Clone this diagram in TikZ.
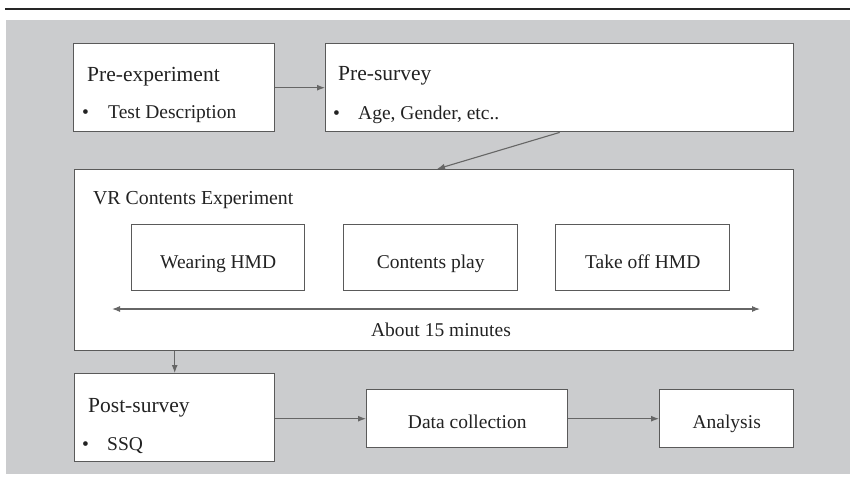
\documentclass[tikz,border=0pt]{standalone}
\usepackage{fontspec}
\setmainfont{Liberation Serif}
\usetikzlibrary{arrows.meta}
\definecolor{bggray}{HTML}{CBCCCE}
\definecolor{edgegray}{HTML}{5A5A5A}
\definecolor{txt}{HTML}{222222}
\definecolor{linegray}{HTML}{666666}
\tikzset{
  box/.style={draw=edgegray, line width=1.4pt, fill=white, anchor=north west, inner sep=0pt},
  head/.style={anchor=base west, inner sep=0pt, text=txt, font=\fontsize{21.5}{24}\selectfont},
  item/.style={anchor=base west, inner sep=0pt, text=txt, font=\fontsize{19.5}{22}\selectfont},
  ctext/.style={anchor=base, inner sep=0pt, text=txt, font=\fontsize{19.5}{22}\selectfont},
  tip/.tip={Latex[length=8pt,width=6pt]},
  conn/.style={draw=linegray, line width=1.1pt, -tip},
}
\begin{document}
\begin{tikzpicture}[x=1pt,y=-1pt]
\useasboundingbox (0,0) rectangle (850,480);
\fill[bggray] (6,20) rectangle (850,474);
\draw[line width=2pt, color=black!85] (5,9) -- (850,9);

% top row
\node[box, minimum width=201pt, minimum height=88pt] (pre) at (73,43) {};
\node[box, minimum width=468pt, minimum height=88pt] (pres) at (325,43) {};
\node[head] (preT) at (87,81) {Pre-experiment};
\node[item] (preB) at (82,118) {•};
\node[item] (preI) at (108,118) {Test Description};
\node[head] (presT) at (338,80) {Pre-survey};
\node[item] (presB) at (333,119) {•};
\node[item] (presI) at (358,119) {Age, Gender, etc..};

% VR block
\node[box, minimum width=719pt, minimum height=181pt] (vr) at (74,169) {};
\node[item, font=\fontsize{19.8}{22}\selectfont] (vrT) at (93,204) {VR Contents Experiment};
\node[box, minimum width=173pt, minimum height=66pt] (wear) at (131,224) {};
\node[ctext] (wearT) at ([yshift=-11pt]wear.center) {Wearing HMD};
\node[box, minimum width=174pt, minimum height=66pt] (play) at (343,224) {};
\node[ctext] (playT) at ([yshift=-11pt]play.center) {Contents play};
\node[box, minimum width=174pt, minimum height=66pt] (off) at (555,224) {};
\node[ctext] (offT) at ([yshift=-11pt]off.center) {Take off HMD};
\coordinate (tl) at (112,309);
\coordinate (tr) at (760,309);
\draw[draw=linegray, line width=1.1pt, tip-tip] (tl) -- (tr);
\node[ctext] (about) at (441,336) {About 15 minutes};

% bottom row
\node[box, minimum width=200pt, minimum height=88pt] (post) at (74,373) {};
\node[head] (postT) at (88,412) {Post-survey};
\node[item] (postB) at (82,450) {•};
\node[item] (postI) at (107,450) {SSQ};
\node[box, minimum width=201pt, minimum height=58pt] (data) at (366,389) {};
\node[ctext] (dataT) at ([yshift=-10pt]data.center) {Data collection};
\node[box, minimum width=134pt, minimum height=58pt] (ana) at (659,389) {};
\node[ctext] (anaT) at ([yshift=-10pt]ana.center) {Analysis};

% connectors
\coordinate (vrin) at (437,169);
\draw[conn] (pre.east) -- (pres.west);
\draw[conn] (pres.south) -- (vrin);
\draw[conn] (vr.south -| post.north) -- (post.north);
\draw[conn] (post.east |- data.west) -- (data.west);
\draw[conn] (data.east) -- (ana.west);
\end{tikzpicture}
\end{document}
